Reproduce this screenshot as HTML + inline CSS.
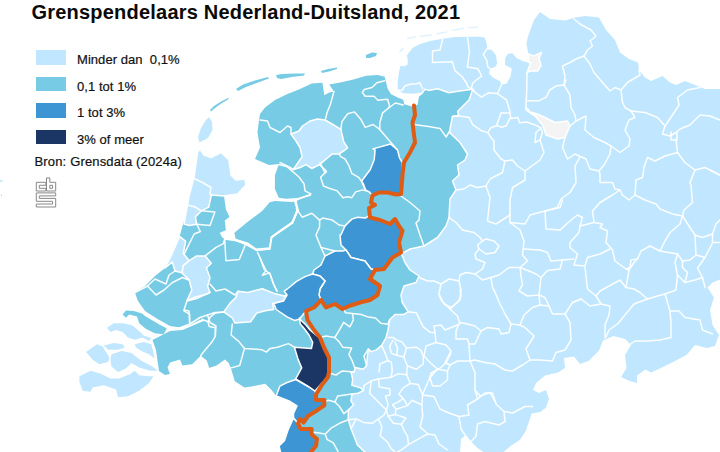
<!DOCTYPE html>
<html lang="nl"><head><meta charset="utf-8"><title>Grenspendelaars Nederland-Duitsland, 2021</title>
<style>
html,body{margin:0;padding:0;background:#fff;}
body{width:720px;height:452px;overflow:hidden;position:relative;font-family:"Liberation Sans",sans-serif;color:#111;}
#map{position:absolute;left:0;top:0;}
h1{position:absolute;left:31.5px;top:0px;margin:0;font-size:20px;line-height:24px;font-weight:bold;white-space:nowrap;letter-spacing:0.21px;color:#0a0a0a;}
.lg{position:absolute;left:36px;height:14.5px;}
.lg i{position:absolute;left:0;top:0;width:29.5px;height:14.5px;display:block;}
.lg span{position:absolute;left:41px;top:2px;font-size:13px;line-height:16px;white-space:nowrap;color:#111;letter-spacing:0.05px;-webkit-text-stroke:0.2px #111;}
#src{position:absolute;left:34.5px;top:154.3px;font-size:13px;line-height:16px;white-space:nowrap;color:#111;letter-spacing:0.16px;-webkit-text-stroke:0.2px #111;}
#logo{position:absolute;left:0;top:0;}
</style></head><body>
<svg id="map" width="720" height="452" viewBox="0 0 720 452">
<polygon points="414,105.5 417,104 418.2,96.5 422.6,92.6 413.2,93.7 403.2,93.2 397.7,89.9 397.7,82.1 398.8,73.3 400.5,65.5 403.8,66.6 407.7,64.4 407.7,60 407,55 412.5,48 420,44 430,41 442.5,38.8 455,37 467.5,36.8 480,36.8 484.6,37.5 486.6,43.3 487.2,48.6 491.2,49.2 495.9,55.2 497.2,63.2 495.2,67.1 489.9,68.5 489.2,73.8 493.2,77.7 499.8,81.1 501.8,84.4 506.5,83.7 510.5,76.4 511.8,68.5 505.1,65.1 505.1,58.5 507.8,53.9 512.4,53.2 516.4,57.9 523,61.2 528.4,62.5 528.4,53.9 526.4,43.3 528.4,35.3 530.3,30 534,20 540,12 550,19 565,20.5 575,17.5 585,16 599,17.5 606,30 615,40 620,52.5 629,59 638,62.5 639,70 645,77.5 651,81 662.5,76 670,82.5 676,85 685,81 695,85 705,89 721,89 721,279 712.5,282.5 707.5,287.5 714,297.5 710,310 712.5,325 719,335 715,346 707,348 695,345 686.5,355 675,361 663,367 651,372.5 645.5,369.6 637,375.5 637,383 629.5,381 621,377 626.5,368 625,355 631,345 625,339 613.5,336 603,340.5 599,350.6 588.6,361 580,364 574,356.5 564,358 565,368 558,372.5 545,375.5 536,383 533,390 539,393 546,390 549,399 546,407.6 540.4,412 531.7,413.4 528.8,422 525.8,431 520,439.7 510,446.5 502.5,453 485,453 477.5,448 471,441.5 466,435 461,439 460,453 310,453 310.7,452 316,446 317,439 311.6,434.4 311.6,429 300.7,429 298,423.5 300,419 303.5,422.6 308,416 316,411 324.3,405.4 324.3,400 316,400 316,394.5 321.6,385.4 328,377 329,372.5 329,357.5 324,347.5 320,337.5 314,330 307.5,320 306,311 314,307.5 317.5,304 321,300 326,307.5 335,304 342.5,309 349,306 360,302.5 370,300 377.5,295 380,286 370,279 375,270 384,269 392.5,257.5 401,252.5 399,242.5 402.5,231 399,226 395,219 390,224 380,220 370,217.5 369,208 375,205 371,202.5 372.5,195.5 379,192.5 387.5,192.5 396,194.5 401,194 402.5,175 404,162.5 410,152.5 415,142.5 414,135 412.5,122.5 415,115" fill="#C0E7FF"/>
<polygon points="399,51 403,47.5 404,49 400,52.5" fill="#C0E7FF" opacity="0.55"/>
<polygon points="407,38 416,36 416,37.3 407.5,39.3" fill="#C0E7FF" opacity="0.55"/>
<polygon points="420,35.8 432,34.2 432,35.5 420.5,37.2" fill="#C0E7FF" opacity="0.55"/>
<polygon points="436,33.3 447,31.3 447,32.6 436.5,34.6" fill="#C0E7FF" opacity="0.55"/>
<polygon points="452,29.8 464,27.8 464,29 452.5,31" fill="#C0E7FF" opacity="0.55"/>
<polygon points="468,27.2 478,26.2 478,27.4 468.5,28.5" fill="#C0E7FF" opacity="0.55"/>
<polygon points="414,105.5 417,104 418.2,96.5 422.6,92.6 424.8,89.3 428.7,90.4 437.5,88.8 444.2,91 448.8,92.7 459.5,91 472.7,89.2 469.2,99.8 461.2,107.8 457.7,111.3 458.6,115.8 452.4,116.6 449.7,130.8 450,133 460,142.5 467.5,154 465,160 457.5,165 459,175 452.5,181 456,190 450,199 449,217.5 446,226 437.5,237.5 424,246 410,249 404,252.5 401,252.5 399,242.5 402.5,231 399,226 395,219 390,224 380,220 370,217.5 369,208 375,205 371,202.5 372.5,195.5 379,192.5 387.5,192.5 396,194.5 401,194 402.5,175 404,162.5 410,152.5 415,142.5 414,135 412.5,122.5 415,115" fill="#77CBE5" stroke="#fff" stroke-width="1.5" stroke-linejoin="round"/>
<polygon points="401,252.5 405,262.5 410,270 419,276 416,282.5 404,286 401,295 402,302 408.2,311.8 403.8,314.5 395,314.5 389.6,319.8 387.9,330.4 386.1,337.5 381.7,345.4 376.4,349.9 371.1,351.6 368.4,349 367.5,355.2 366.6,365.8 363.1,369.3 355.1,367.6 354.2,372 351,372 352.7,379 351.9,385.3 360.7,387.9 363.4,390.6 358,393.2 351.9,394.1 351,401.2 353.6,404.7 348.3,410 348.3,419.8 351,428.6 354.5,437.5 357.2,444.6 362.5,449.9 366,453 310.7,453 310.7,452 316,446 317,439 311.6,434.4 311.6,429 300.7,429 298,423.5 300,419 303.5,422.6 308,416 316,411 324.3,405.4 324.3,400 316,400 316,394.5 321.6,385.4 328,377 329,372.5 329,357.5 324,347.5 320,337.5 314,330 307.5,320 306,311 314,307.5 317.5,304 321,300 326,307.5 335,304 342.5,309 349,306 360,302.5 370,300 377.5,295 380,286 370,279 375,270 384,269 392.5,257.5" fill="#77CBE5" stroke="#fff" stroke-width="1.5" stroke-linejoin="round"/>
<polygon points="528.4,53.9 533.7,55.9 541.6,52.5 539,58.5 541,65.1 537.7,71.1 531,71.1 527,72.4 529,67.1 531,62.5 528.4,62.5" fill="#F4F4F4" stroke="#fff" stroke-width="1.5" stroke-linejoin="round"/>
<polygon points="527,108 530,112 537.5,114 545,117.5 555,122.5 567.5,121 570,126 565,137.5 557.5,139 546,135 542.5,125 536,117 528,111" fill="#F4F4F4" stroke="#fff" stroke-width="1.5" stroke-linejoin="round"/>
<polygon points="200,149 204,155 211,157.5 221,152.5 229,160 231,175 236,180 245,179 246,185 237.5,194 224,196 225.9,209.6 229.5,216.9 224.7,220.6 225.9,230.3 219.8,232.7 222.2,237.6 224.7,238.8 235.6,241.3 245.3,244.9 256.3,251 269.7,249.8 272,238 280.5,232 293,223.5 298.5,210.5 296.5,201 310.9,193.8 301.2,197.7 285.6,198.7 278.8,197.7 274.9,189 274.9,175.3 278.8,164.6 279,164 269,165 255,159 260,147.5 257.5,132.5 259,120 260,114 265,107.5 275,100 287.5,94 300,89 311.7,83.6 322.4,82.7 324.3,95.3 329.2,92.4 334,91.4 329.2,84.6 339,82.7 352.6,79.7 366.2,75.8 377.9,74.9 384.7,76.8 386,82 387.7,88.8 391,94.3 397.7,97.6 403.2,99.8 404.3,104.2 412,106.5 414,105.5 415,115 412.5,122.5 414,135 415,142.5 410,152.5 404,162.5 402.5,175 401,194 396,194.5 387.5,192.5 379,192.5 372.5,195.5 371,202.5 375,205 369,208 370,217.5 380,220 390,224 395,219 399,226 402.5,231 399,242.5 401,252.5 392.5,257.5 384,269 375,270 370,279 380,286 377.5,295 370,300 360,302.5 349,306 342.5,309 335,304 326,307.5 321,300 317.5,304 314,307.5 306,311 307.5,320 314,330 320,337.5 324,347.5 329,357.5 329,372.5 328,377 321.6,385.4 316,394.5 316,400 324.3,400 324.3,405.4 316,411 308,416 303.5,422.6 300,419 298,423.5 300.7,429 311.6,429 311.6,434.4 317,439 316,446 310.7,452 280.8,453 279,446 284.4,440.7 288,430 293.5,418 293.5,413.5 297,406 289,401 276.2,395.9 271.3,389.8 265.2,383.7 253,386.2 244.5,387.4 234.8,381.3 231.1,369.1 228.7,363 225,359.4 216.5,365.5 209.2,367.9 206.8,360.6 200.7,355.7 192.2,364.3 182.4,365.5 180,359.4 170,362.5 167.5,367.5 170,374 165,375 159,371 156,350 152.5,340 170,331 182.5,330 200,322.5 206,320 200,320 190,325 180,327.5 170,326 157.5,319 145,311 139,302.5 137.5,300 135,292.5 145,286 155,276 165,268 171.1,255.9 179.6,236.4 185.7,214.5 189.3,195 194,177.5 197.5,152.5" fill="#77CBE5"/>
<polygon points="234.4,232.7 247.8,221.8 262.4,210.8 269.7,202.3 275,201 291.6,202 294,201.6 296.5,209.6 291.6,221.8 279.4,230.3 270.9,236.4 269.7,247.3 256.3,248.6 247.8,242.5 235.6,238.8" fill="#77CBE5"/>
<polyline points="224.7,238.8 235.6,240.3 247.8,243.8 256.3,249.8 269.7,248.8 271.5,237.3 280,231.3 292.3,222.8 297.8,210 295.5,201.3" fill="none" stroke="#fff" stroke-width="2"/>
<polyline points="276,199.8 296,199.6 311,194.6" fill="none" stroke="#fff" stroke-width="1.8"/>
<polygon points="210,110 214,106 222,101 229,97.5 228,99.5 222,103 215,108 211,111.5" fill="#77CBE5"/>
<polygon points="236,89 243,84.5 255,80.5 268,77 269,78.5 258,82.5 246,87 238,91" fill="#77CBE5"/>
<polygon points="276,75 282,74 295,73.5 305,73.5 304,75.5 292,77 281,79 277,78" fill="#77CBE5"/>
<polygon points="321,71 328,69 337,67.5 337,69 329,71.5 322,73" fill="#77CBE5"/>
<polygon points="366,55 372,52.5 377,53 376,56 370,58 366,58" fill="#77CBE5"/>
<polygon points="125.9,310.6 133.6,311 141.4,313.3 150.2,318.8 160.2,323.2 166.8,328.8 163.5,334.3 154.6,333.2 145.8,328.8 139.2,323.2 137,316.6 129.2,314.4 125.9,317.7 122.6,314.4" fill="#77CBE5"/>
<polygon points="209,117 212,122 212.5,130 208,138 199.5,142.5 198,137 201,128 206,120" fill="#C0E7FF"/>
<polygon points="291,134 299,131 302.5,126 310,121 317.5,119 325,120 331.2,123.5 340.9,129.4 343.8,142 347.7,147.9 345,150 339.1,153.9 332.3,153.9 326.5,158.8 319.6,164.6 311.9,168.5 306,164.6 300.2,167.5 293.4,169.5 297.3,163.6 302.1,156.8 300,147.5 296,141" fill="#C0E7FF" stroke="#fff" stroke-width="1.5" stroke-linejoin="round"/>
<polygon points="200,149 204,155 211,157.5 221,152.5 229,160 231,175 236,180 245,179 246,185 237.5,194 224,196 211.3,195 208.8,207.2 201.5,210.8 195.4,216.9 196.7,224.2 189.3,225.4 184,224 185.7,214.5 189.3,195 194,177.5 197.5,152.5" fill="#C0E7FF" stroke="#fff" stroke-width="1.5" stroke-linejoin="round"/>
<polygon points="179.6,236.4 185.7,241.3 184.5,247 183.3,253.4 189.3,260.7 183.3,265.6 182,272.9 175,271 172.3,262 165,268 171.1,255.9" fill="#C0E7FF" stroke="#fff" stroke-width="1.5" stroke-linejoin="round"/>
<polygon points="196.7,255.9 205.2,255.9 211.3,263.2 206.4,268 210,277.8 207.6,286.3 210,292.4 196.7,298.5 186.9,300.9 191.8,290 189.3,280.2 182,272.9 183.3,265.6 189.3,260.7" fill="#C0E7FF" stroke="#fff" stroke-width="1.5" stroke-linejoin="round"/>
<polygon points="238,291.2 247.8,292.4 262.4,288.7 274.6,293.6 284.3,296 287.1,294.9 283.5,301 272.5,303.4 273.7,309.5 265.2,310.7 256.7,313.1 250.6,321.7 234.8,322.9 232.3,318 223.8,311.9 229.9,303.4 236,297.3" fill="#C0E7FF" stroke="#fff" stroke-width="1.5" stroke-linejoin="round"/>
<polygon points="107,327.7 113.7,323.2 123.7,323.2 132.5,325.4 140.3,332 143.6,335.4 151.3,338 149,341 142.5,337.5 134.7,339.8 128,337.6 122.6,332 116,329.9 110.4,332" fill="#C0E7FF"/>
<polygon points="134.7,344.2 143.6,342 151.3,344.2 153.5,353 154.6,358.6 149,354.2 141.4,350.9 136,347.5" fill="#C0E7FF"/>
<polygon points="103.8,345.4 113.7,343.1 122.6,344.2 124.8,347.6 118,349.8 108.2,349.8" fill="#C0E7FF"/>
<polygon points="86,352 97,344.2 102.7,346.5 109.3,357.5 108.2,362 99.3,364.2 92.7,359.7" fill="#C0E7FF"/>
<polygon points="111.5,354.2 121.5,350.9 131.4,353 141.4,360.8 152.4,366.4 158,370.8 150.2,370.8 139.2,367.5 131.4,363 125.9,368.6 118,372 111.5,366.4 110.4,359.7" fill="#C0E7FF"/>
<polygon points="79.4,376.3 90.5,370.8 101.5,374 110.4,378.5 119.2,378.5 130.3,374 134.7,370.8 139.2,375.2 148,376.3 153.5,376.3 149,383 139.2,390.7 128,396.2 118,397.3 116,389.6 103.8,385.2 92.7,387.4 90.5,391.8 82.7,390.7 79.4,381.9" fill="#C0E7FF"/>
<polygon points="373,148.9 390.5,144 397.5,150 399.5,157.8 402.4,162.7 402.5,175 401,194 396,194.5 387.5,192.5 379,192.5 372.5,195.5 369.3,191.9 365.4,189.9 361.5,181.2 370.3,169.5 374.2,159.7 375.1,150" fill="#3D95D4" stroke="#fff" stroke-width="1.5" stroke-linejoin="round"/>
<polygon points="367.5,216.5 370,217.5 380,220 390,224 395,219 399,226 402.5,231 399,242.5 401,252.5 392.5,257.5 384,269 375,270 371,269 365,261 351,257.5 346,250 341,245 340,235 341,234.7 345,225.9 351.8,219.1 357.6,217.2 365.4,218.1" fill="#3D95D4" stroke="#fff" stroke-width="1.5" stroke-linejoin="round"/>
<polygon points="371,269 375,270 370,279 380,286 377.5,295 370,300 360,302.5 349,306 342.5,309 335,304 326,307.5 321,300 319,295 320,289 325,281 320,276 312.5,274 314,270 321,265 325,256 335,251 342.5,251 346,250 351,257.5 365,261" fill="#3D95D4" stroke="#fff" stroke-width="1.5" stroke-linejoin="round"/>
<polygon points="312.5,274 320,276 325,281 320,289 319,295 321,300 317.5,304 314,307.5 306,311 299.3,319.2 294.4,320.4 287.1,316.8 276.2,309.5 273.7,303.4 283.5,301 287.1,294.9 284.3,291.2 289.2,287.5 296.5,281.4 305,276.6" fill="#3D95D4" stroke="#fff" stroke-width="1.5" stroke-linejoin="round"/>
<polygon points="295.7,379.5 287.1,382.5 279.8,386.2 276.2,395.9 289,401 297,406 293.5,413.5 293.5,418 298,423.5 300,419 303.5,422.6 308,416 316,411 324.3,405.4 324.3,400 316,400 316,394.5 315,391 307.5,386" fill="#3D95D4" stroke="#fff" stroke-width="1.5" stroke-linejoin="round"/>
<polygon points="293.5,418 288,430 284.4,440.7 279,446 280.8,453 310.7,453 316,446 317,439 311.6,434.4 311.6,429 300.7,429 298,423.5" fill="#3D95D4" stroke="#fff" stroke-width="1.5" stroke-linejoin="round"/>
<polygon points="299.3,318 301.7,321 306,325 310,330 316,335 320,337.5 324,347.5 329,357.5 329,372.5 328,377 322.5,382.5 315,391 311.5,388.6 307.5,386 295.7,378.9 301.7,367.9 298.1,359.4 294.4,347.2 311.5,348.4 312.7,342.3 309,335 304.2,328.5 300.3,324" fill="#1B3564" stroke="#fff" stroke-width="1.5" stroke-linejoin="round"/>
<polyline points="397.7,89.9 402.1,90.4 404.9,86 409.9,84.3 416.5,83.8 419.8,82.7 421.5,86.5 422.6,88.8" fill="none" stroke="#fff" stroke-width="1.5" stroke-linejoin="round" stroke-linecap="round" opacity="0.95"/>
<polyline points="442.5,39.5 440,50 432.5,51 432.5,62.5 452.4,61.8 455,70.6 462.1,76.8 466.5,83 468.3,87.4 472.7,89.2" fill="none" stroke="#fff" stroke-width="1.5" stroke-linejoin="round" stroke-linecap="round" opacity="0.95"/>
<polyline points="467.5,37.5 469.5,52.5 468.3,60 467.4,67 478,68.8 481.6,76 472.7,83 471.5,88" fill="none" stroke="#fff" stroke-width="1.5" stroke-linejoin="round" stroke-linecap="round" opacity="0.95"/>
<polyline points="491.2,49.2 487.2,48.6 483.3,54.5 486.6,59.8 487.9,67.1 489.9,68.5" fill="none" stroke="#fff" stroke-width="1.5" stroke-linejoin="round" stroke-linecap="round" opacity="0.95"/>
<polyline points="414,124.5 428.5,126.5 440,128.4 446.2,137 449.7,131" fill="none" stroke="#fff" stroke-width="1.5" stroke-linejoin="round" stroke-linecap="round" opacity="0.95"/>
<polyline points="472.7,89.2 475.4,92.7 481.6,97.2 488.7,92.7 497.5,93.6 506.4,99.8 509.9,111.3 510.8,118.4 517.9,117.5 519.6,122.8 526.7,122 536.5,125.5 540.9,128.1" fill="none" stroke="#fff" stroke-width="1.5" stroke-linejoin="round" stroke-linecap="round" opacity="0.95"/>
<polyline points="509.9,113 501,113 496.6,125.5 502,127.3 506.4,125.5 509.9,118.4" fill="none" stroke="#fff" stroke-width="1.5" stroke-linejoin="round" stroke-linecap="round" opacity="0.95"/>
<polyline points="487.8,132.6 490.4,128.1 496.6,125.5" fill="none" stroke="#fff" stroke-width="1.5" stroke-linejoin="round" stroke-linecap="round" opacity="0.95"/>
<polyline points="497.5,93.6 501.5,84.8" fill="none" stroke="#fff" stroke-width="1.5" stroke-linejoin="round" stroke-linecap="round" opacity="0.95"/>
<polyline points="527,72.4 526.7,91.9 525.8,109.6 530.3,113 536.5,115.8" fill="none" stroke="#fff" stroke-width="1.5" stroke-linejoin="round" stroke-linecap="round" opacity="0.95"/>
<polyline points="527.6,100.7 539,100.7 546.2,97.2 549.7,90 556.8,85.7 564,85" fill="none" stroke="#fff" stroke-width="1.5" stroke-linejoin="round" stroke-linecap="round" opacity="0.95"/>
<polyline points="564,85 565,76 562.5,66 570,62.5 576,59 584,56 587.5,50 592.5,46 590,41 596,36 591,30 580,24 574,19" fill="none" stroke="#fff" stroke-width="1.5" stroke-linejoin="round" stroke-linecap="round" opacity="0.95"/>
<polyline points="564,85 570,95 571,107.5 575,115 576,121 570,126" fill="none" stroke="#fff" stroke-width="1.5" stroke-linejoin="round" stroke-linecap="round" opacity="0.95"/>
<polyline points="584,56 590,64 594,72.5 602.5,82.5 610,91 615,87.5 621,90 627.5,82.5 640,75 639,70" fill="none" stroke="#fff" stroke-width="1.5" stroke-linejoin="round" stroke-linecap="round" opacity="0.95"/>
<polyline points="576,121 586,116 585,130 594,137.5 605,142.5 611,146 610,154 604,165 599,171" fill="none" stroke="#fff" stroke-width="1.5" stroke-linejoin="round" stroke-linecap="round" opacity="0.95"/>
<polyline points="452.4,116.6 457.7,115.8 469.2,117.5 472.7,124.6 481.6,130.8 487.8,132.6 491.3,137.9 494,141 494,150 501,159 505,161 502.5,172.5 490,179 486,186 477.5,187.5 470,185 464,189 456,190" fill="none" stroke="#fff" stroke-width="1.5" stroke-linejoin="round" stroke-linecap="round" opacity="0.95"/>
<polyline points="540.9,128.1 542.5,132.5 540,140 535,142.5 536,132.5 540.9,128.1" fill="none" stroke="#fff" stroke-width="1.5" stroke-linejoin="round" stroke-linecap="round" opacity="0.95"/>
<polyline points="540,140 544,152.5 540,160 525,171 517.5,166 512.5,160 505,161" fill="none" stroke="#fff" stroke-width="1.5" stroke-linejoin="round" stroke-linecap="round" opacity="0.95"/>
<polyline points="525,171 525,180 512.5,187.5 510,200 510,222.5" fill="none" stroke="#fff" stroke-width="1.5" stroke-linejoin="round" stroke-linecap="round" opacity="0.95"/>
<polyline points="486,186 490,197.5 487.5,221 496,224 510,215" fill="none" stroke="#fff" stroke-width="1.5" stroke-linejoin="round" stroke-linecap="round" opacity="0.95"/>
<polyline points="565,137.5 562.5,147.5 567.5,159 575,154 586,159 590,169 599,171" fill="none" stroke="#fff" stroke-width="1.5" stroke-linejoin="round" stroke-linecap="round" opacity="0.95"/>
<polyline points="580,157 575,166 576,182.5 570,192.5 561,199 557.5,207.5 545,211" fill="none" stroke="#fff" stroke-width="1.5" stroke-linejoin="round" stroke-linecap="round" opacity="0.95"/>
<polyline points="449,217.5 456,222.5 462.5,230 474,232.5 480,237.5 482.5,241 477.5,245 479,249 475,254 476,259 485,262.5 482.5,269 475,274 466,272.5 460,275 459,281 449,279 441,284 434,281 427.5,281 419,277.5" fill="none" stroke="#fff" stroke-width="1.5" stroke-linejoin="round" stroke-linecap="round" opacity="0.95"/>
<polyline points="482.5,241 486,239 494,241 499,246 495,252.5 486,254 479,249" fill="none" stroke="#fff" stroke-width="1.5" stroke-linejoin="round" stroke-linecap="round" opacity="0.95"/>
<polyline points="510,222.5 520,230 524,241 522.5,255 527.5,261 520,267.5 509,267.5 499,275 491,277.5 482.5,280 475,274" fill="none" stroke="#fff" stroke-width="1.5" stroke-linejoin="round" stroke-linecap="round" opacity="0.95"/>
<polyline points="510,222.5 525,224 530,215 545,211 560,207.5 562.5,200" fill="none" stroke="#fff" stroke-width="1.5" stroke-linejoin="round" stroke-linecap="round" opacity="0.95"/>
<polyline points="545,211 546,229 560,230" fill="none" stroke="#fff" stroke-width="1.5" stroke-linejoin="round" stroke-linecap="round" opacity="0.95"/>
<polyline points="524,249 540,250" fill="none" stroke="#fff" stroke-width="1.5" stroke-linejoin="round" stroke-linecap="round" opacity="0.95"/>
<polyline points="520,267.5 529,271 536,274 541,277.5 539,295 527.5,296 519,291 522.5,285 521,276 520,267.5" fill="none" stroke="#fff" stroke-width="1.5" stroke-linejoin="round" stroke-linecap="round" opacity="0.95"/>
<polyline points="539,295 540,305" fill="none" stroke="#fff" stroke-width="1.5" stroke-linejoin="round" stroke-linecap="round" opacity="0.95"/>
<polyline points="549,306 545,297.5 539,295" fill="none" stroke="#fff" stroke-width="1.5" stroke-linejoin="round" stroke-linecap="round" opacity="0.95"/>
<polyline points="491,277.5 492.5,287.5 494,290" fill="none" stroke="#fff" stroke-width="1.5" stroke-linejoin="round" stroke-linecap="round" opacity="0.95"/>
<polyline points="441,284 439,294 444,304 451,307.5 460,300 461,290 459,281" fill="none" stroke="#fff" stroke-width="1.5" stroke-linejoin="round" stroke-linecap="round" opacity="0.95"/>
<polyline points="401,196 410,202.5 420,211 419,220 416,223 420,235 424,246" fill="none" stroke="#fff" stroke-width="1.5" stroke-linejoin="round" stroke-linecap="round" opacity="0.95"/>
<polyline points="564,85 566,80" fill="none" stroke="#fff" stroke-width="1.5" stroke-linejoin="round" stroke-linecap="round" opacity="0.95"/>
<polyline points="611,146 620,152.5 629,146 630,139 625,130 629,120 635,117.5 631,111 625,107.5 622.5,102.5 621,90" fill="none" stroke="#fff" stroke-width="1.5" stroke-linejoin="round" stroke-linecap="round" opacity="0.95"/>
<polyline points="631,111 645,112.5 657.5,117.5 665,126 662.5,134 670,136 676,132.5 680,129 690,125 700,115 710,116 720,120" fill="none" stroke="#fff" stroke-width="1.5" stroke-linejoin="round" stroke-linecap="round" opacity="0.95"/>
<polyline points="665,126 672.5,115 679,105 677.5,97.5 687.5,90 700,87.5" fill="none" stroke="#fff" stroke-width="1.5" stroke-linejoin="round" stroke-linecap="round" opacity="0.95"/>
<polyline points="671,132 671,140 677,140 677,132" fill="none" stroke="#fff" stroke-width="1.5" stroke-linejoin="round" stroke-linecap="round" opacity="0.95"/>
<polyline points="676,139 677.5,152.5 685,162.5 695,170 705,167.5 720,175" fill="none" stroke="#fff" stroke-width="1.5" stroke-linejoin="round" stroke-linecap="round" opacity="0.95"/>
<polyline points="695,170 690,182.5 691,185 692.5,202.5 684,210 682.5,216" fill="none" stroke="#fff" stroke-width="1.5" stroke-linejoin="round" stroke-linecap="round" opacity="0.95"/>
<polyline points="677.5,152.5 665,156 655,161 647.5,157.5 644,167.5 642.5,177.5 636,180 635,195" fill="none" stroke="#fff" stroke-width="1.5" stroke-linejoin="round" stroke-linecap="round" opacity="0.95"/>
<polyline points="600,174 600,182.5 612.5,182.5 615,189 620,190 622.5,195 629,200 635,195 645,200 656,204 660,209 672.5,214 682.5,216" fill="none" stroke="#fff" stroke-width="1.5" stroke-linejoin="round" stroke-linecap="round" opacity="0.95"/>
<polyline points="599,171 600,174" fill="none" stroke="#fff" stroke-width="1.5" stroke-linejoin="round" stroke-linecap="round" opacity="0.95"/>
<polyline points="560,230 571,220 577.5,215 582.5,217.5 580,226 594,222.5 592.5,211 600,202.5 612.5,195 620,190" fill="none" stroke="#fff" stroke-width="1.5" stroke-linejoin="round" stroke-linecap="round" opacity="0.95"/>
<polyline points="682.5,216 690,227.5 695,235 696,255 690,260 682.5,261 677.5,254 660,251 665,241 670,232.5 680,224 682.5,216" fill="none" stroke="#fff" stroke-width="1.5" stroke-linejoin="round" stroke-linecap="round" opacity="0.95"/>
<polyline points="660,251 650,246 641,251 637.5,259 631,260 630,267.5 626,269 615,261 612.5,250 606,242.5 607.5,231 600,227.5 602.5,224 594,222.5" fill="none" stroke="#fff" stroke-width="1.5" stroke-linejoin="round" stroke-linecap="round" opacity="0.95"/>
<polyline points="580,226 579,232.5 570,242.5 570,247.5 577.5,254 574,265 585,266 587.5,257.5 600,254 610,249" fill="none" stroke="#fff" stroke-width="1.5" stroke-linejoin="round" stroke-linecap="round" opacity="0.95"/>
<polyline points="574,259 562.5,260 551,261 547.5,252.5 540,250" fill="none" stroke="#fff" stroke-width="1.5" stroke-linejoin="round" stroke-linecap="round" opacity="0.95"/>
<polyline points="562.5,260 560,269 547.5,270.5 541,277.5" fill="none" stroke="#fff" stroke-width="1.5" stroke-linejoin="round" stroke-linecap="round" opacity="0.95"/>
<polyline points="695,235 702.5,237.5 712.5,234 716,224 720,220" fill="none" stroke="#fff" stroke-width="1.5" stroke-linejoin="round" stroke-linecap="round" opacity="0.95"/>
<polyline points="712.5,234 712.5,242.5 720,242.5" fill="none" stroke="#fff" stroke-width="1.5" stroke-linejoin="round" stroke-linecap="round" opacity="0.95"/>
<polyline points="696,255 705,257.5 712.5,243" fill="none" stroke="#fff" stroke-width="1.5" stroke-linejoin="round" stroke-linecap="round" opacity="0.95"/>
<polyline points="705,257.5 697.5,268 702.5,277.5 705,287.5" fill="none" stroke="#fff" stroke-width="1.5" stroke-linejoin="round" stroke-linecap="round" opacity="0.95"/>
<polyline points="682.5,261 682.5,267.5 687.5,272.5 685,282.5 695,280 702.5,277.5" fill="none" stroke="#fff" stroke-width="1.5" stroke-linejoin="round" stroke-linecap="round" opacity="0.95"/>
<polyline points="677.5,254 675,262.5 677.5,275 676,290 665,294" fill="none" stroke="#fff" stroke-width="1.5" stroke-linejoin="round" stroke-linecap="round" opacity="0.95"/>
<polyline points="677.5,275 685,282.5" fill="none" stroke="#fff" stroke-width="1.5" stroke-linejoin="round" stroke-linecap="round" opacity="0.95"/>
<polyline points="710,170 720,175" fill="none" stroke="#fff" stroke-width="1.5" stroke-linejoin="round" stroke-linecap="round" opacity="0.95"/>
<polyline points="585,267.5 587.5,289 596,296 600,291 620,280 626,287.5 634,289 640,292.5 647.5,299 657.5,296 665,294 667.5,302.5 670,311 671,322.5 671,337.5 660,340 647.5,341 635,341 627.5,346" fill="none" stroke="#fff" stroke-width="1.5" stroke-linejoin="round" stroke-linecap="round" opacity="0.95"/>
<polyline points="626,287.5 629,270 626,269" fill="none" stroke="#fff" stroke-width="1.5" stroke-linejoin="round" stroke-linecap="round" opacity="0.95"/>
<polyline points="629,270 634,262.5 637.5,259" fill="none" stroke="#fff" stroke-width="1.5" stroke-linejoin="round" stroke-linecap="round" opacity="0.95"/>
<polyline points="647.5,299 634,304 625,315 617.5,324 609,330 606,337" fill="none" stroke="#fff" stroke-width="1.5" stroke-linejoin="round" stroke-linecap="round" opacity="0.95"/>
<polyline points="596,296 601,304 610,306 609,315 605,325 605,338" fill="none" stroke="#fff" stroke-width="1.5" stroke-linejoin="round" stroke-linecap="round" opacity="0.95"/>
<polyline points="601,304 590,306 581,299 572.5,302.5" fill="none" stroke="#fff" stroke-width="1.5" stroke-linejoin="round" stroke-linecap="round" opacity="0.95"/>
<polyline points="670,311 679,311 685,317.5 700,320 702.5,330 712.5,334" fill="none" stroke="#fff" stroke-width="1.5" stroke-linejoin="round" stroke-linecap="round" opacity="0.95"/>
<polyline points="408.2,311.8 416.2,312.7 419.7,319.8 423.3,326.9 430,332.2 435,332.5 434,326 441,325 445,330 457.5,325 461,322.5 467.5,324 475,326 481,331 475,344 469,344 467.5,339 456,339 456,331 458.5,325" fill="none" stroke="#fff" stroke-width="1.5" stroke-linejoin="round" stroke-linecap="round" opacity="0.95"/>
<polyline points="439,294 441,300 450,309 457.5,302.5 461,296 460,290" fill="none" stroke="#fff" stroke-width="1.5" stroke-linejoin="round" stroke-linecap="round" opacity="0.95"/>
<polyline points="450,309 457.5,316 460,324" fill="none" stroke="#fff" stroke-width="1.5" stroke-linejoin="round" stroke-linecap="round" opacity="0.95"/>
<polyline points="494,290 500,304 505,314 511,324 509,332.5 501,334 499,329 487.5,327.5 481,331" fill="none" stroke="#fff" stroke-width="1.5" stroke-linejoin="round" stroke-linecap="round" opacity="0.95"/>
<polyline points="511,324 520,325 525,327.5 534,336 526,349 530,360 522.5,365 512.5,371 505,370 495,364 485,362.5 475,360 470,361" fill="none" stroke="#fff" stroke-width="1.5" stroke-linejoin="round" stroke-linecap="round" opacity="0.95"/>
<polyline points="520,325 524,315 532.5,307.5 540,305 549,306 552.5,314 565,314 570,322.5 571,340 565,350 556,352.5 552.5,361 540,360 530,360" fill="none" stroke="#fff" stroke-width="1.5" stroke-linejoin="round" stroke-linecap="round" opacity="0.95"/>
<polyline points="565,314 572.5,302.5 581,299" fill="none" stroke="#fff" stroke-width="1.5" stroke-linejoin="round" stroke-linecap="round" opacity="0.95"/>
<polyline points="469,344 470,361 457.5,361 450,365 447.5,371 437.5,369 430,377.5 432.5,386 440,386 447.5,380 447.5,371" fill="none" stroke="#fff" stroke-width="1.5" stroke-linejoin="round" stroke-linecap="round" opacity="0.95"/>
<polyline points="470,361 475,372.5 475,390 480,396 490,392.5 496,403" fill="none" stroke="#fff" stroke-width="1.5" stroke-linejoin="round" stroke-linecap="round" opacity="0.95"/>
<polyline points="435,332.5 436,342.5 426,346 424,356 430,362.5 437.5,369" fill="none" stroke="#fff" stroke-width="1.5" stroke-linejoin="round" stroke-linecap="round" opacity="0.95"/>
<polyline points="436,342.5 446,345 451,351 445,362.5 450,365" fill="none" stroke="#fff" stroke-width="1.5" stroke-linejoin="round" stroke-linecap="round" opacity="0.95"/>
<polyline points="446,363 439,369 431,373 430,377.5 422.7,394" fill="none" stroke="#fff" stroke-width="1.5" stroke-linejoin="round" stroke-linecap="round" opacity="0.95"/>
<polyline points="451,353 446,363" fill="none" stroke="#fff" stroke-width="1.5" stroke-linejoin="round" stroke-linecap="round" opacity="0.95"/>
<polyline points="422.7,395 434,396.5 440,409 449,413 459,416.5 469,415 467.5,405 477.5,399 475,390" fill="none" stroke="#fff" stroke-width="1.5" stroke-linejoin="round" stroke-linecap="round" opacity="0.95"/>
<polyline points="477.5,399 485,393 492.5,393 496,404 504,411.5 512.5,413 525,406.5 532.5,406.5" fill="none" stroke="#fff" stroke-width="1.5" stroke-linejoin="round" stroke-linecap="round" opacity="0.95"/>
<polyline points="504,411.5 505,421.5 499,425 485,421.5 477.5,424 476,436.5 471,441.5" fill="none" stroke="#fff" stroke-width="1.5" stroke-linejoin="round" stroke-linecap="round" opacity="0.95"/>
<polyline points="459,416.5 461,429 465,435" fill="none" stroke="#fff" stroke-width="1.5" stroke-linejoin="round" stroke-linecap="round" opacity="0.95"/>
<polyline points="387.9,337.5 393.2,337.5 396.7,340.1 402,341.9 406.5,348.1 416.2,347.2 420.6,349.9 423.3,356 424,356" fill="none" stroke="#fff" stroke-width="1.5" stroke-linejoin="round" stroke-linecap="round" opacity="0.95"/>
<polyline points="393.2,340 389.6,346.3 391.4,353.4 396.7,355.2 397.6,348.1 395,342" fill="none" stroke="#fff" stroke-width="1.5" stroke-linejoin="round" stroke-linecap="round" opacity="0.95"/>
<polyline points="381.7,345.4 385.2,353.4 387.9,360.5 379.9,364 379,372" fill="none" stroke="#fff" stroke-width="1.5" stroke-linejoin="round" stroke-linecap="round" opacity="0.95"/>
<polyline points="387.9,360.5 391.4,362.3 392.3,371.1 390.8,377.3" fill="none" stroke="#fff" stroke-width="1.5" stroke-linejoin="round" stroke-linecap="round" opacity="0.95"/>
<polyline points="396.7,355.2 403.8,357 406.5,348.1" fill="none" stroke="#fff" stroke-width="1.5" stroke-linejoin="round" stroke-linecap="round" opacity="0.95"/>
<polyline points="403.8,357 407.3,365.8 416.2,369.3 423.3,364 423.3,356" fill="none" stroke="#fff" stroke-width="1.5" stroke-linejoin="round" stroke-linecap="round" opacity="0.95"/>
<polyline points="407.3,365.8 406.7,374.7 410.3,383.5 418.2,384.4 422.7,395" fill="none" stroke="#fff" stroke-width="1.5" stroke-linejoin="round" stroke-linecap="round" opacity="0.95"/>
<polyline points="368.4,349 364,356 366.6,365.8" fill="none" stroke="#fff" stroke-width="1.5" stroke-linejoin="round" stroke-linecap="round" opacity="0.95"/>
<polyline points="363.4,390.6 364.2,385.3 371.3,380.8 378.4,379 390.8,377.3 397.9,373.8 406.7,374.7" fill="none" stroke="#fff" stroke-width="1.5" stroke-linejoin="round" stroke-linecap="round" opacity="0.95"/>
<polyline points="371.3,380.8 369.6,393.2 374.9,398.5 381.1,404.7 386.4,410 383.7,415.4 378.4,418.9 372.2,423.3 363.4,422.4 356.3,418.9 348.3,419.8" fill="none" stroke="#fff" stroke-width="1.5" stroke-linejoin="round" stroke-linecap="round" opacity="0.95"/>
<polyline points="378.4,379 379.3,387 389.9,388.8 389.9,395 385.5,395.9 388.1,404.7 386.4,410" fill="none" stroke="#fff" stroke-width="1.5" stroke-linejoin="round" stroke-linecap="round" opacity="0.95"/>
<polyline points="410.3,383.5 403.2,387.9 398.8,394.1 403.2,398.5 397.9,402.1 392.6,404.7 396.1,409.2 395.2,414.5 388.1,416.2 386.4,410" fill="none" stroke="#fff" stroke-width="1.5" stroke-linejoin="round" stroke-linecap="round" opacity="0.95"/>
<polyline points="403.2,398.5 407.6,405.6 396.1,409.2" fill="none" stroke="#fff" stroke-width="1.5" stroke-linejoin="round" stroke-linecap="round" opacity="0.95"/>
<polyline points="407.6,405.6 412,400.3 421.8,404.7 422.7,395" fill="none" stroke="#fff" stroke-width="1.5" stroke-linejoin="round" stroke-linecap="round" opacity="0.95"/>
<polyline points="421.8,404.7 422.7,416.2 420,426.9 428,434 435,435 439,444 447.5,450" fill="none" stroke="#fff" stroke-width="1.5" stroke-linejoin="round" stroke-linecap="round" opacity="0.95"/>
<polyline points="388.1,416.2 393.5,423.3 401.4,424.2 405.8,418 397.9,415.4 395.2,414.5" fill="none" stroke="#fff" stroke-width="1.5" stroke-linejoin="round" stroke-linecap="round" opacity="0.95"/>
<polyline points="401.4,424.2 404.1,430.4 407.6,436.6 408.5,444.6 401.4,449.9 396,453" fill="none" stroke="#fff" stroke-width="1.5" stroke-linejoin="round" stroke-linecap="round" opacity="0.95"/>
<polyline points="408.5,444.6 416.5,440.1 424.4,435.7 428,434" fill="none" stroke="#fff" stroke-width="1.5" stroke-linejoin="round" stroke-linecap="round" opacity="0.95"/>
<polyline points="378.4,418.9 381.9,426.9 380.2,435.7 387.3,441.9 390.8,448.1 396,453" fill="none" stroke="#fff" stroke-width="1.5" stroke-linejoin="round" stroke-linecap="round" opacity="0.95"/>
<polyline points="356.3,418.9 351,428.6" fill="none" stroke="#fff" stroke-width="1.5" stroke-linejoin="round" stroke-linecap="round" opacity="0.95"/>
<polyline points="344,309 345.4,312.7 352.5,313.6 361.3,314.5 368.4,317.1 375.5,318 380.8,323.3 387.9,324.2 389.6,319.8" fill="none" stroke="#fff" stroke-width="1.5" stroke-linejoin="round" stroke-linecap="round" opacity="0.95"/>
<polyline points="352.5,313.6 353.4,319.8 349.8,326.9 343.6,322.4 339.2,330.4 334.8,337.5 339.2,341.9 342.7,347.2 351.6,348.1 348.9,354.3 352.5,361.4 354.6,367.6" fill="none" stroke="#fff" stroke-width="1.5" stroke-linejoin="round" stroke-linecap="round" opacity="0.95"/>
<polyline points="334.8,337.5 326,336 320,337.5" fill="none" stroke="#fff" stroke-width="1.5" stroke-linejoin="round" stroke-linecap="round" opacity="0.95"/>
<polyline points="354.2,372 341.9,371.1 336,375 329,373" fill="none" stroke="#fff" stroke-width="1.5" stroke-linejoin="round" stroke-linecap="round" opacity="0.95"/>
<polyline points="351.9,394.1 344.8,395 337.7,395.9 335,402 339.5,406.5 343.9,413.6 348.3,410" fill="none" stroke="#fff" stroke-width="1.5" stroke-linejoin="round" stroke-linecap="round" opacity="0.95"/>
<polyline points="335,402 328.8,400.3 324.3,401.5" fill="none" stroke="#fff" stroke-width="1.5" stroke-linejoin="round" stroke-linecap="round" opacity="0.95"/>
<polyline points="348.3,419.8 339.5,423.3 331.5,427.8 325.3,434 327,439.3 333.3,442.8 337.7,450.8 338,453" fill="none" stroke="#fff" stroke-width="1.5" stroke-linejoin="round" stroke-linecap="round" opacity="0.95"/>
<polyline points="325.3,434 312,432" fill="none" stroke="#fff" stroke-width="1.5" stroke-linejoin="round" stroke-linecap="round" opacity="0.95"/>
<polyline points="194,178.5 202.5,182.5 211,187.5 210,194 211.3,195" fill="none" stroke="#fff" stroke-width="1.5" stroke-linejoin="round" stroke-linecap="round" opacity="0.95"/>
<polyline points="187.5,205 195,207 201.5,210.8" fill="none" stroke="#fff" stroke-width="1.5" stroke-linejoin="round" stroke-linecap="round" opacity="0.95"/>
<polyline points="260,120 267.5,121 270,127.5 280,132.5 287.5,126 291,127.5 291,134" fill="none" stroke="#fff" stroke-width="1.5" stroke-linejoin="round" stroke-linecap="round" opacity="0.95"/>
<polyline points="334,91.4 330.2,105 327.3,111.9 325.3,119.6" fill="none" stroke="#fff" stroke-width="1.5" stroke-linejoin="round" stroke-linecap="round" opacity="0.95"/>
<polyline points="340.9,129.4 341.9,121.6 347.7,113.8 354.5,111.9 360.4,118.7 365.2,127.4 373,124.5 379.8,129.4 389.6,141 397.5,150" fill="none" stroke="#fff" stroke-width="1.5" stroke-linejoin="round" stroke-linecap="round" opacity="0.95"/>
<polyline points="379.8,129.4 379.8,122.6 382.7,112.8 388.6,108 395.4,103 403.2,105" fill="none" stroke="#fff" stroke-width="1.5" stroke-linejoin="round" stroke-linecap="round" opacity="0.95"/>
<polyline points="384.7,80.7 376.9,82.7 372,87.5 364.3,89.5 362.3,92.4 365.2,96.3 374,96.3 377.9,100.2 387.6,99.2 389.6,106 388.6,108" fill="none" stroke="#fff" stroke-width="1.5" stroke-linejoin="round" stroke-linecap="round" opacity="0.95"/>
<polyline points="320,162.5 325,173" fill="none" stroke="#fff" stroke-width="1.5" stroke-linejoin="round" stroke-linecap="round" opacity="0.95"/>
<polyline points="280,162.5 290,167.5 293.4,169.5" fill="none" stroke="#fff" stroke-width="1.5" stroke-linejoin="round" stroke-linecap="round" opacity="0.95"/>
<polyline points="291.4,170.4 299.2,177.3 304.1,184 305,190.9 310.9,193.8" fill="none" stroke="#fff" stroke-width="1.5" stroke-linejoin="round" stroke-linecap="round" opacity="0.95"/>
<polyline points="278.8,164.6 286.6,166.5 291.4,170.4" fill="none" stroke="#fff" stroke-width="1.5" stroke-linejoin="round" stroke-linecap="round" opacity="0.95"/>
<polyline points="319.6,164.6 326.5,171.4 320.6,177.3 323.5,186 328.4,188 337.2,190.9 343,197.7 347.9,196.7 351.8,197.7 355.7,191.9 362.5,189.9 369.3,191.9" fill="none" stroke="#fff" stroke-width="1.5" stroke-linejoin="round" stroke-linecap="round" opacity="0.95"/>
<polyline points="339.1,153.9 341,156.8 345,158.8 348.9,165.6 351.8,173.4 358.6,177.3 363.5,184 365.4,189.9" fill="none" stroke="#fff" stroke-width="1.5" stroke-linejoin="round" stroke-linecap="round" opacity="0.95"/>
<polyline points="296.3,208.4 302.1,217.2 311.9,213.3 319.6,220.1 322.6,218.1 332.3,220.1 339.1,225 345,225.9" fill="none" stroke="#fff" stroke-width="1.5" stroke-linejoin="round" stroke-linecap="round" opacity="0.95"/>
<polyline points="319.6,220.1 319.6,226.9 316,235 321,247.5 325,256" fill="none" stroke="#fff" stroke-width="1.5" stroke-linejoin="round" stroke-linecap="round" opacity="0.95"/>
<polyline points="321,247.5 335,251" fill="none" stroke="#fff" stroke-width="1.5" stroke-linejoin="round" stroke-linecap="round" opacity="0.95"/>
<polyline points="260,257.5 264,269 270,274 274,285 277,291.2" fill="none" stroke="#fff" stroke-width="1.5" stroke-linejoin="round" stroke-linecap="round" opacity="0.95"/>
<polyline points="257.5,252.2 262.4,263.2 266,270.5 262.4,275.3 269.7,272.9 273.4,283.9 277,291.2" fill="none" stroke="#fff" stroke-width="1.5" stroke-linejoin="round" stroke-linecap="round" opacity="0.95"/>
<polyline points="224.7,238.8 225.9,260.7 239.3,259.5 245.3,244.9" fill="none" stroke="#fff" stroke-width="1.5" stroke-linejoin="round" stroke-linecap="round" opacity="0.95"/>
<polyline points="205.2,255.9 216.1,247.3 223.4,243.7 224.7,238.8" fill="none" stroke="#fff" stroke-width="1.5" stroke-linejoin="round" stroke-linecap="round" opacity="0.95"/>
<polyline points="210,284 216,291 225,289 235,295 238,291.2" fill="none" stroke="#fff" stroke-width="1.5" stroke-linejoin="round" stroke-linecap="round" opacity="0.95"/>
<polyline points="201.5,210.8 214.9,212 210,225.4 196.7,224.2" fill="none" stroke="#fff" stroke-width="1.5" stroke-linejoin="round" stroke-linecap="round" opacity="0.95"/>
<polyline points="196.7,224.2 200.3,231.5 194.2,234 189.3,243.7 184.5,253.4" fill="none" stroke="#fff" stroke-width="1.5" stroke-linejoin="round" stroke-linecap="round" opacity="0.95"/>
<polyline points="135,292.5 147.5,286 156,295 164,290 172.5,282.5 182.5,277.5 189.3,280.2" fill="none" stroke="#fff" stroke-width="1.5" stroke-linejoin="round" stroke-linecap="round" opacity="0.95"/>
<polyline points="147.5,286 155,279 166,284 169,275 175,271" fill="none" stroke="#fff" stroke-width="1.5" stroke-linejoin="round" stroke-linecap="round" opacity="0.95"/>
<polyline points="186.9,300.9 184,310 189,311 189.7,325.3" fill="none" stroke="#fff" stroke-width="1.5" stroke-linejoin="round" stroke-linecap="round" opacity="0.95"/>
<polyline points="186.9,300.9 194.6,297.3 208,293.7 210,292.4" fill="none" stroke="#fff" stroke-width="1.5" stroke-linejoin="round" stroke-linecap="round" opacity="0.95"/>
<polyline points="137.5,302.5 145,315 160,324 170,329 180,327.8 190,324 200,317.5 207.5,315 215,312.5 223.8,311.9" fill="none" stroke="#fff" stroke-width="1.5" stroke-linejoin="round" stroke-linecap="round" opacity="0.95"/>
<polyline points="207.5,315 210,322.5 216,326 215.3,336.3" fill="none" stroke="#fff" stroke-width="1.5" stroke-linejoin="round" stroke-linecap="round" opacity="0.95"/>
<polyline points="201.9,319.2 208,321.7 210.4,316.8 215.3,313.1 223.8,311.9" fill="none" stroke="#fff" stroke-width="1.5" stroke-linejoin="round" stroke-linecap="round" opacity="0.95"/>
<polyline points="208,321.7 209.2,326.5 215.3,327.7 215.3,336.3 211.7,342.3 204.3,350.9 200.7,355.7" fill="none" stroke="#fff" stroke-width="1.5" stroke-linejoin="round" stroke-linecap="round" opacity="0.95"/>
<polyline points="232.3,324.1 231.1,335 238.4,341.1 244.5,348.4 261.6,349.7 266.4,352.1 270.1,348.4 277.4,347.2 288.4,343.6 294.4,347.2" fill="none" stroke="#fff" stroke-width="1.5" stroke-linejoin="round" stroke-linecap="round" opacity="0.95"/>
<polyline points="244.5,348.4 242.1,357 239.7,365.5 231.1,367.9" fill="none" stroke="#fff" stroke-width="1.5" stroke-linejoin="round" stroke-linecap="round" opacity="0.95"/>
<polyline points="189.7,325.3 189.7,314.3 183.7,310.7" fill="none" stroke="#fff" stroke-width="1.5" stroke-linejoin="round" stroke-linecap="round" opacity="0.95"/>
<rect x="0" y="180.5" width="2.5" height="1" fill="#77CBE5" opacity="0.8"/><rect x="1" y="194.5" width="1" height="1.5" fill="#77CBE5" opacity="0.6"/>
<polyline points="414,105.5 415,115 412.5,122.5 414,135 415,142.5 410,152.5 404,162.5 402.5,175 401,194 396,194.5 387.5,192.5 379,192.5 372.5,195.5 371,202.5 375,205 369,208 370,217.5 380,220 390,224 395,219 399,226 402.5,231 399,242.5 401,252.5 392.5,257.5 384,269 375,270 370,279 380,286 377.5,295 370,300 360,302.5 349,306 342.5,309 335,304 326,307.5 321,300 317.5,304 314,307.5 306,311 307.5,320 314,330 320,337.5 324,347.5 329,357.5 329,372.5 328,377 321.6,385.4 316,394.5 316,400 324.3,400 324.3,405.4 316,411 308,416 303.5,422.6 300,419 298,423.5 300.7,429 311.6,429 311.6,434.4 317,439 316,446 310.7,452" fill="none" stroke="#DF5C14" stroke-width="4" stroke-linejoin="round" stroke-linecap="round"/>
</svg>
<h1>Grenspendelaars Nederland-Duitsland, 2021</h1>
<div class="lg" style="top:50px"><i style="background:#C0E7FF"></i><span>Minder dan&nbsp; 0,1%</span></div>
<div class="lg" style="top:76.7px"><i style="background:#77CBE5"></i><span>0,1 tot 1%</span></div>
<div class="lg" style="top:103px"><i style="background:#3D95D4"></i><span>1 tot 3%</span></div>
<div class="lg" style="top:129.7px"><i style="background:#1B3564"></i><span>3% of meer</span></div>
<div id="src">Bron: Grensdata (2024a)</div>
<svg id="logo" width="720" height="452" viewBox="0 0 720 452" fill="#fff" stroke="#888" stroke-width="1" stroke-linejoin="round">
<path d="M36.3 182.3H45.9V185.3H39.3V188.3H45.9V191H36.3Z"/>
<path d="M46.5 177.9H49.8V182.3H55.7V191H46.5ZM49.8 185.3V188.3H52.6V185.3Z" fill-rule="evenodd"/>
<path d="M36.3 192.9H55.7V195.9H39.3V198.4H55.7V207H36.3V204H52.6V201.3H36.3Z"/>
</svg>
</body></html>
